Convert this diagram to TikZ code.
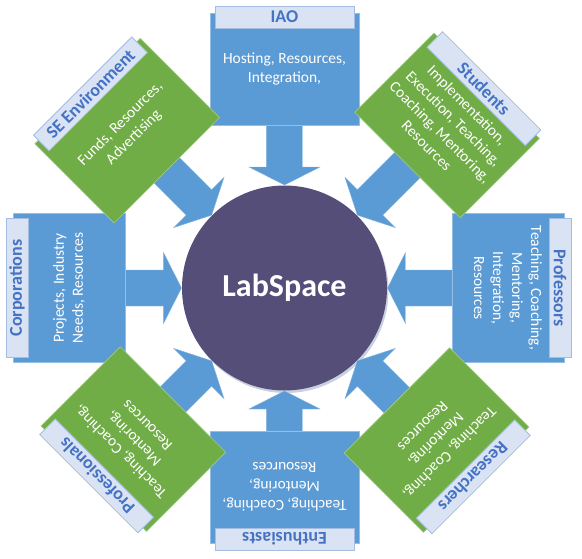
\documentclass[tikz,border=0pt]{standalone}
\usepackage{fontspec}
\setmainfont{Carlito}
\definecolor{labblue}{HTML}{5B9BD5}
\definecolor{labgreen}{HTML}{70AD47}
\definecolor{labcore}{HTML}{544E78}
\definecolor{tabfill}{HTML}{DAE3F3}
\definecolor{tabline}{HTML}{A4BDE0}
\definecolor{titleblue}{HTML}{4472C4}

\begin{document}
\begin{tikzpicture}
  [x=1pt,y=1pt,
   block/.style={fill=#1, draw=white!35!#1, line width=0.6pt},
   flow/.style={fill=labblue, draw=white!25!labblue, line width=0.4pt},
   tabbox/.style={fill=tabfill, draw=tabline, line width=0.8pt},
   tabtext/.style={text=titleblue, font=\fontsize{18}{20}\selectfont\bfseries},
   bodytext/.style={text=white, align=center, font=\fontsize{15.5}{19}\selectfont}]
  \useasboundingbox (-284.5,-270) rectangle (297.5,288);
  % centre circle with its soft shadow
  \fill[black!8!tabfill] (1.5,-2.5) circle (102.5);
  \node[circle, fill=labcore, minimum size=205pt, inner sep=0pt] (core) at (0,0) {};
  \node[text=white, font=\fontsize{32}{36}\selectfont\bfseries] (label) at (core) {LabSpace};
  % rotation / distance / colour / name / title / text  (blue ones first)
  \foreach \rot/\d/\col/\n/\ttl/\txt in {
      0/163/labblue/iao/IAO/{Hosting, Resources,\\Integration,},
      -90/167.5/labblue/prof/Professors/{Teaching, Coaching,\\Mentoring,\\Integration,\\Resources},
      180/143/labblue/enth/Enthusiasts/{Teaching, Coaching,\\Mentoring,\\Resources},
      90/159.5/labblue/corp/Corporations/{Projects, Industry\\Needs, Resources},
      -45/174/labgreen/stud/Students/{Implementation,\\Execution, Teaching,\\Coaching, Mentoring,\\Resources},
      -135/159/labgreen/res/Researchers/{Teaching, Coaching,\\Mentoring,\\Resources},
      135/157.7/labgreen/pros/Professionals/{Teaching, Coaching,\\Mentoring,\\Resources},
      45/166.5/labgreen/env/SE Environment/{Funds, Resources,\\Advertising}}
  {
    \begin{scope}[rotate=\rot, transform shape]
      \filldraw[flow] (-18,\d) -- (-18,121) -- (-35.5,121) -- (0,103)
                      -- (35.5,121) -- (18,121) -- (18,\d) -- cycle; % arrow into the core
      \filldraw[block=\col] (-74.5,\d) rectangle (74.5,\d+112);
      \filldraw[tabbox] (-69.5,\d+97) rectangle (69.5,\d+119);
      \node[tabtext] (\n-title) at (0,\d+108) {\ttl};
      \node[bodytext] (\n-text) at (0,\d+56) {\txt};
    \end{scope}
  }
\end{tikzpicture}
\end{document}
